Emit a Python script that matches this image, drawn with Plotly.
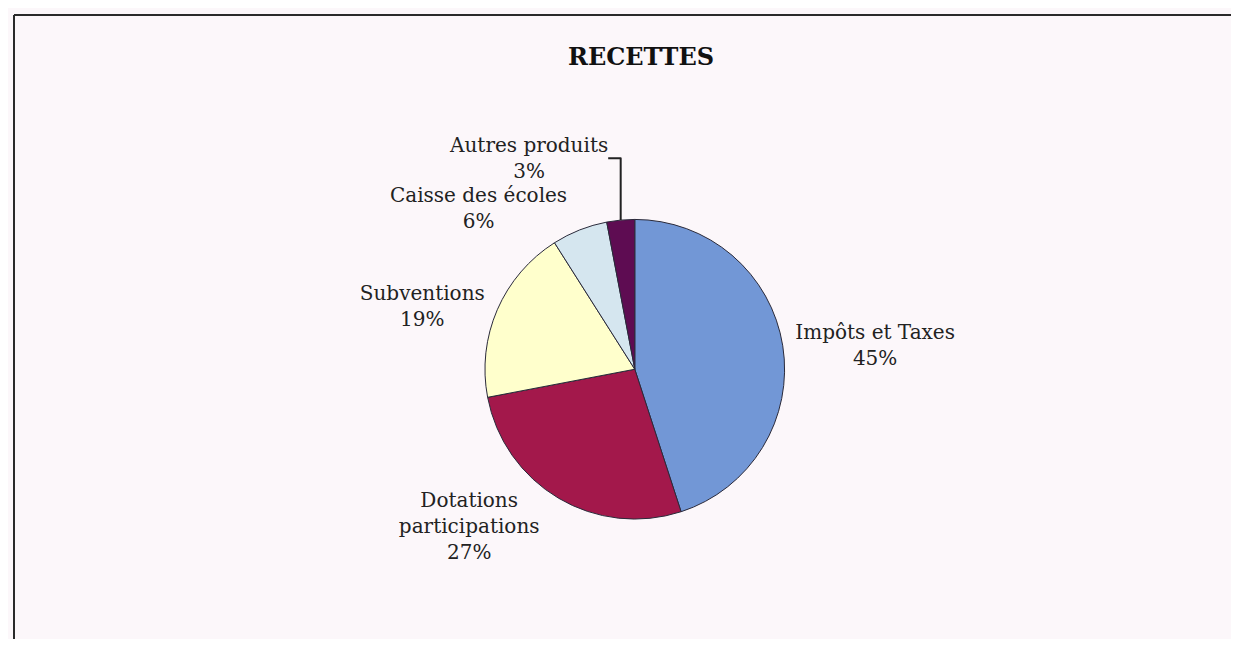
import plotly.graph_objects as go

labels = ["Impôts et Taxes", "Dotations<br>participations", "Subventions", "Caisse des écoles", "Autres produits"]
values = [45, 27, 19, 6, 3]
colors = ["#7297D6", "#A3184B", "#FFFFCC", "#D5E6EF", "#5E0C52"]

W, H = 1223, 631  # page body has an 8px margin

fig = go.Figure()
fig.add_trace(go.Pie(
    labels=labels,
    values=values,
    sort=False,
    direction="clockwise",
    rotation=0,
    marker=dict(colors=colors, line=dict(color="#2a2a3a", width=1)),
    texttemplate="%{label}<br>%{percent:.0%}",
    textposition="outside",
    textfont=dict(family="DejaVu Serif", size=20, color="#222222"),
    domain=dict(x=[0.39, 0.635], y=[0.19, 0.665]),
    showlegend=False,
    hoverinfo="label+percent",
))

fig.update_layout(
    width=W, height=H,
    margin=dict(l=0, r=0, t=0, b=0),
    paper_bgcolor="#FCF7FA",
    title=dict(text="<b>RECETTES</b>", x=633 / W, xanchor="center", y=1 - 49 / H, yanchor="middle",
               font=dict(family="DejaVu Serif", size=24, color="#111111")),
    shapes=[
        dict(type="line", xref="paper", yref="paper", x0=6 / W, x1=1.0, y0=1 - 7 / H, y1=1 - 7 / H,
             line=dict(color="#2a2a2a", width=2)),
        dict(type="line", xref="paper", yref="paper", x0=6 / W, x1=6 / W, y0=0, y1=1 - 7 / H,
             line=dict(color="#2a2a2a", width=2)),
    ],
)

fig.write_html("out.html")
